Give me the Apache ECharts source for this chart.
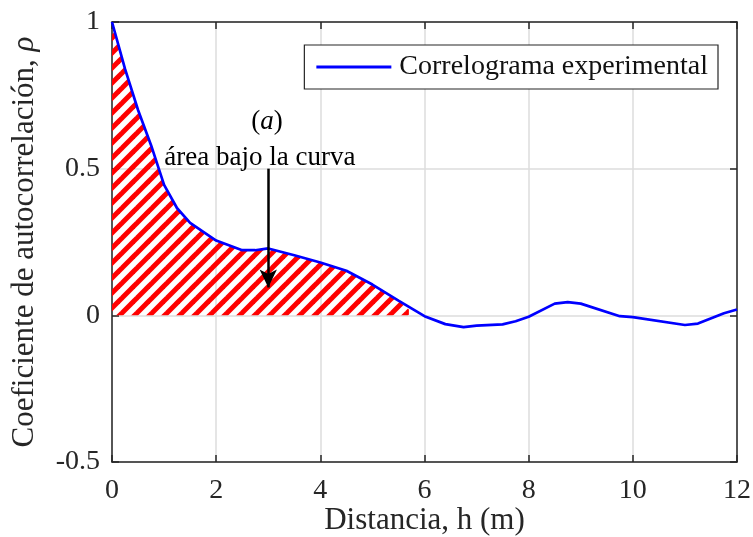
<!DOCTYPE html>
<html>
<head>
<meta charset="utf-8">
<script src="https://cdn.jsdelivr.net/npm/echarts@6/dist/echarts.min.js"></script>
<style>html,body{margin:0;padding:0;background:#fff;}#c{width:753px;height:537px;}</style>
</head>
<body>
<div id="c"></div>
<script>
// Data
const lagX = [0, 0.25, 0.5, 0.75, 1.0, 1.25, 1.5, 2.0, 2.5, 2.75, 3.0, 3.5, 4.0, 4.5, 5.0, 5.5, 6.0, 6.4, 6.75, 7.0, 7.5, 7.75, 8.0, 8.5, 8.75, 9.0, 9.75, 10.0, 11.0, 11.25, 11.75, 12.0];
const rho  = [1.0, 0.84, 0.70, 0.58, 0.445, 0.365, 0.315, 0.255, 0.222, 0.222, 0.228, 0.205, 0.18, 0.152, 0.105, 0.05, -0.003, -0.03, -0.04, -0.035, -0.031, -0.02, -0.005, 0.04, 0.045, 0.04, -0.003, -0.006, -0.033, -0.028, 0.007, 0.02];
const hatchEndX = 5.7, hatchEndY = 0.02;
const xTicks = [0, 2, 4, 6, 8, 10, 12];
const yTicks = [-0.5, 0, 0.5, 1];
const seriesName = 'Correlograma experimental';
const arrowFrom = [3, 0.5], arrowTo = [3, 0.095];

const FONT = "'Liberation Serif','Times New Roman',serif";

const lineData = lagX.map((x, i) => [x, rho[i]]);
const hatchData = lineData.filter(p => p[0] <= 5.5).concat([[hatchEndX, hatchEndY]]);

// stripe pattern
const pc = document.createElement('canvas');
pc.width = 15; pc.height = 15;
const g = pc.getContext('2d');
g.strokeStyle = '#ff0000';
g.lineWidth = 5;
g.lineCap = 'square';
[[-7.5, 7.5, 7.5, -7.5], [0, 15, 15, 0], [7.5, 22.5, 22.5, 7.5]].forEach(s => {
  g.beginPath(); g.moveTo(s[0], s[1]); g.lineTo(s[2], s[3]); g.stroke();
});

const chart = echarts.init(document.getElementById('c'), null, {renderer: 'canvas'});
const axisCommon = {
  axisLine: {show: true, onZero: false, lineStyle: {color: '#262626', width: 1.5}},
  axisTick: {show: true, inside: true, length: 7, lineStyle: {color: '#262626', width: 1.5}},
};
chart.setOption({
  animation: false,
  backgroundColor: '#fff',
  grid: {left: 112, right: 16, top: 22, bottom: 75, show: false, containLabel: false, outerBoundsMode: 'none'},
  legend: {
    data: [{name: seriesName, icon: 'rect'}],
    right: 35, top: 45,
    orient: 'vertical',
    padding: [8, 10, 8, 12],
    borderColor: '#262626', borderWidth: 1.2,
    backgroundColor: '#fff',
    itemWidth: 75, itemHeight: 3, itemGap: 0,
    itemStyle: {color: '#0000ff'},
    textStyle: {fontFamily: FONT, fontSize: 28, color: '#111', padding: [0, 0, 0, 3]}
  },
  xAxis: [{
    type: 'value', min: 0, max: 12, interval: 2, position: 'bottom',
    ...axisCommon,
    axisLabel: {fontFamily: FONT, fontSize: 28, color: '#262626', margin: 15},
    splitLine: {show: true, lineStyle: {color: '#dcdcdc', width: 1.5}},
    name: 'Distancia, h (m)', nameLocation: 'middle', nameGap: 43, nameMoveOverlap: false,
    nameTextStyle: {fontFamily: FONT, fontSize: 31, color: '#262626'}
  }, {
    type: 'value', min: 0, max: 12, interval: 2, position: 'top',
    ...axisCommon,
    axisLabel: {show: false}, splitLine: {show: false}
  }],
  yAxis: [{
    type: 'value', min: -0.5, max: 1, interval: 0.5, position: 'left',
    ...axisCommon,
    axisLabel: {fontFamily: FONT, fontSize: 28, color: '#262626', margin: 12},
    splitLine: {show: true, lineStyle: {color: '#dcdcdc', width: 1.5}},
    name: '{a|Coeficiente de autocorrelación, }{b|ρ}', nameLocation: 'middle', nameGap: 72, nameMoveOverlap: false,
    nameTextStyle: {fontFamily: FONT, fontSize: 31, color: '#262626',
      rich: {a: {fontFamily: FONT, fontSize: 31, color: '#262626'},
             b: {fontFamily: FONT, fontSize: 31, fontStyle: 'italic', color: '#262626'}}}
  }, {
    type: 'value', min: -0.5, max: 1, interval: 0.5, position: 'right',
    ...axisCommon,
    axisLabel: {show: false}, splitLine: {show: false}
  }],
  series: [{
    name: 'hatch', type: 'line', data: hatchData, symbol: 'none', smooth: false,
    lineStyle: {width: 0, opacity: 0},
    areaStyle: {color: {image: pc, repeat: 'repeat'}, opacity: 1, origin: 0},
    silent: true, z: 1,
    markLine: {
      silent: true, symbol: ['none', 'arrow'], symbolSize: [13, 18],
      lineStyle: {color: '#000', width: 2.5, type: 'solid'},
      label: {show: false},
      data: [[{coord: arrowFrom}, {coord: arrowTo}]]
    }
  }, {
    name: seriesName, type: 'line', data: lineData, symbol: 'none', smooth: false,
    lineStyle: {color: '#0000ff', width: 2.7}, itemStyle: {color: '#0000ff'}, z: 3
  }]
});

const p = chart.convertToPixel({xAxisIndex: 0, yAxisIndex: 0}, arrowFrom);
chart.setOption({
  graphic: [{
    type: 'text', left: p[0] - 17, top: p[1] - 60,
    style: {text: '{n|(}{i|a}{n|)}', rich: {
      n: {fontFamily: FONT, fontSize: 27, fill: '#000'},
      i: {fontFamily: FONT, fontSize: 27, fontStyle: 'italic', fill: '#000'}}}
  }, {
    type: 'text', left: p[0] - 104, top: p[1] - 24,
    style: {text: 'área bajo la curva', fontFamily: FONT, fontSize: 27, fill: '#000'}
  }]
});
</script>
</body>
</html>
